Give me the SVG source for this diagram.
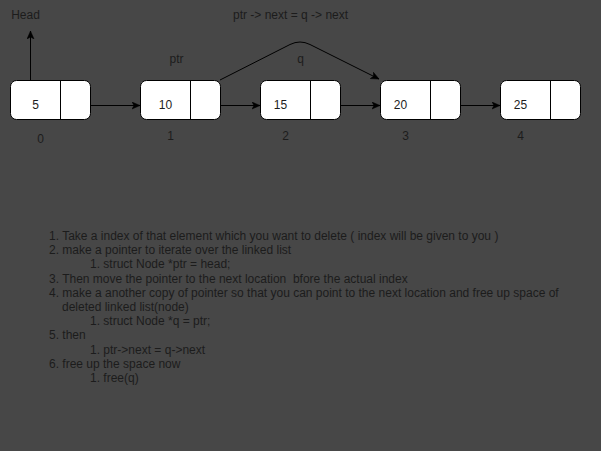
<svg xmlns="http://www.w3.org/2000/svg" width="601" height="451" viewBox="0 0 601 451">
<style>
.t{font-family:"Liberation Sans",Arial,sans-serif;font-size:12px;fill:#1c1c1c}
.c{text-anchor:middle}
.box{fill:#fff;stroke:#000;stroke-width:1}
.div{stroke:#000;stroke-width:1}
.edge{fill:none;stroke:#000;stroke-width:1}
</style>
<defs>
<marker id="arr" markerUnits="userSpaceOnUse" markerWidth="10" markerHeight="10" viewBox="0 0 10 10" refX="8" refY="4" orient="auto">
<path d="M0,0.5 L8,4 L0,7.5 L2,4 Z" fill="#000" stroke="#000" stroke-width="0.5"/>
</marker>
</defs>
<rect width="601" height="451" fill="#474747"/>
<text class="t c" x="25.5" y="19">Head</text>
<text class="t" x="233" y="19">ptr -&gt; next = q -&gt; next</text>
<text class="t c" x="176.5" y="63">ptr</text>
<text class="t c" x="300.5" y="63">q</text>
<g id="node0">
<rect class="box" x="10.5" y="80.5" width="80" height="39" rx="6"/>
<line class="div" x1="60.5" y1="80.5" x2="60.5" y2="119.5"/>
<text class="t c" x="35.5" y="109">5</text>
<text class="t c" x="40.5" y="143">0</text>
</g>
<g id="node1">
<rect class="box" x="140.5" y="80.5" width="80" height="39" rx="6"/>
<line class="div" x1="190.5" y1="80.5" x2="190.5" y2="119.5"/>
<text class="t c" x="165.5" y="109">10</text>
<text class="t c" x="170.5" y="140">1</text>
</g>
<g id="node2">
<rect class="box" x="260.5" y="80.5" width="80" height="39" rx="6"/>
<line class="div" x1="310.5" y1="80.5" x2="310.5" y2="119.5"/>
<text class="t c" x="280.5" y="109">15</text>
<text class="t c" x="285.5" y="140">2</text>
</g>
<g id="node3">
<rect class="box" x="380.5" y="80.5" width="80" height="39" rx="6"/>
<line class="div" x1="430.5" y1="80.5" x2="430.5" y2="119.5"/>
<text class="t c" x="400.5" y="109">20</text>
<text class="t c" x="405.5" y="140">3</text>
</g>
<g id="node4">
<rect class="box" x="500.5" y="80.5" width="80" height="39" rx="6"/>
<line class="div" x1="550.5" y1="80.5" x2="550.5" y2="119.5"/>
<text class="t c" x="520.5" y="109">25</text>
<text class="t c" x="520.5" y="140">4</text>
</g>
<g id="connectors">
<line class="edge" x1="30.5" y1="80" x2="30.5" y2="31" marker-end="url(#arr)"/>
<line class="edge" x1="90.5" y1="105.5" x2="140" y2="105.5" marker-end="url(#arr)"/>
<line class="edge" x1="220.5" y1="105.5" x2="260" y2="105.5" marker-end="url(#arr)"/>
<line class="edge" x1="340.5" y1="105.5" x2="380" y2="105.5" marker-end="url(#arr)"/>
<line class="edge" x1="460.5" y1="105.5" x2="500" y2="105.5" marker-end="url(#arr)"/>
<path class="edge" d="M220,80 L290,44.5 Q300,39.5 310,44.5 L379,79" marker-end="url(#arr)"/>
</g>
<g id="steps">
<text class="t" x="49" y="240">1. Take a index of that element which you want to delete ( index will be given to you )</text>
<text class="t" x="49" y="254.2">2. make a pointer to iterate over the linked list</text>
<text class="t" x="90" y="268.4">1. struct Node *ptr = head;</text>
<text class="t" x="49" y="282.6" xml:space="preserve">3. Then move the pointer to the next location  bfore the actual index</text>
<text class="t" x="49" y="296.8">4. make a another copy of pointer so that you can point to the next location and free up space of</text>
<text class="t" x="62" y="311">deleted linked list(node)</text>
<text class="t" x="90" y="325.2">1. struct Node *q = ptr;</text>
<text class="t" x="49" y="339.4">5. then</text>
<text class="t" x="90" y="353.6">1. ptr-&gt;next = q-&gt;next</text>
<text class="t" x="49" y="367.8">6. free up the space now</text>
<text class="t" x="90" y="382">1. free(q)</text>
</g>
</svg>
